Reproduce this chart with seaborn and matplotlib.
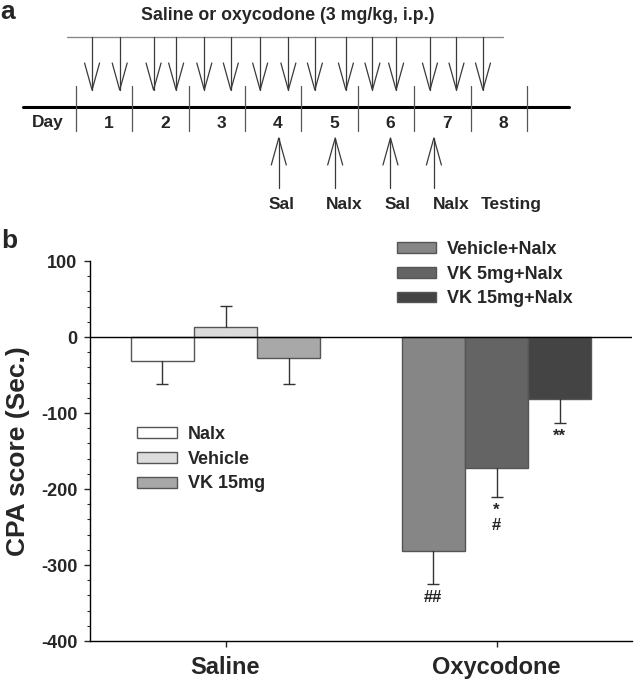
import pandas as pd
import matplotlib
matplotlib.use("Agg")
import matplotlib.pyplot as plt
from matplotlib.patches import Patch
from matplotlib.ticker import MultipleLocator
import seaborn as sns

sns.set_style("ticks")
plt.rcParams['font.family'] = ['Liberation Sans', 'DejaVu Sans']
plt.rcParams['axes.unicode_minus'] = False

# ---- panel a: schedule (times in days from start of day 1) ----
days = [1, 2, 3, 4, 5, 6, 7, 8]
injection_times = [0.29, 0.78, 1.38, 1.78, 2.28, 2.75, 3.27, 3.77, 4.24,
                   4.79, 5.26, 5.68, 6.28, 6.75, 7.22]
treatment_times = [3.60, 4.60, 5.58, 6.35]
treatment_labels = ["Sal", "Nalx", "Sal", "Nalx", "Testing"]
treatment_label_pos = [3.65, 4.76, 5.70, 6.65, 7.73]

# ---- panel b: CPA scores ----
groups = ["Saline", "Oxycodone"]
saline_labels = ["Nalx", "Vehicle", "VK 15mg"]
oxy_labels = ["Vehicle+Nalx", "VK 5mg+Nalx", "VK 15mg+Nalx"]
saline_means = [-32, 13, -28]
saline_sem = [30, 28, 34]
oxy_means = [-282, -172, -81]
oxy_sem = [43, 38, 32]
oxy_marks = ["##", "*\n#", "**"]

saline_colors = ["#ffffff", "#dcdcdc", "#a8a8a8"]
oxy_colors = ["#868686", "#646464", "#444444"]

W, H = 634, 683
fig = plt.figure(figsize=(W / 100, H / 100), dpi=100)

# ================= panel a =================
ax_a = fig.add_axes([0, (H - 230) / H, 1, 230 / H])
px_per_day = 56.41
x0 = 75.7
ax_a.set_xlim(-x0 / px_per_day, (W - x0) / px_per_day)
ax_a.set_ylim(230, 0)
ax_a.axis("off")

half = 7.5 / px_per_day
arrow_col = "#3a3a3a"

ax_a.plot([-0.16, 7.57], [37, 37], color="#8a8a8a", lw=1)
for t in injection_times:
    ax_a.plot([t, t], [37, 90], color=arrow_col, lw=0.9)
    ax_a.plot([t - half, t, t + half], [63, 90, 63], color=arrow_col, lw=0.9)

ax_a.plot([-0.93, 8.75], [107, 107], color="black", lw=2.2)
for b in range(len(days) + 1):
    ax_a.plot([b, b], [86, 131], color="#555555", lw=0.9)
ax_a.text(-0.5, 123, "Day", ha="center", va="center", fontsize=12.5, fontweight="bold")
for d in days:
    ax_a.text(d - 1 + 0.58, 123, str(d), ha="center", va="center",
              fontsize=12.5, fontweight="bold")

for t in treatment_times:
    ax_a.plot([t, t], [188, 138], color=arrow_col, lw=0.9)
    ax_a.plot([t - half, t, t + half], [165, 138, 165], color=arrow_col, lw=0.9)
for lab, p in zip(treatment_labels, treatment_label_pos):
    ax_a.text(p, 205, lab, ha="center", va="center", fontsize=12.5, fontweight="bold")

ax_a.text(3.76, 15, "Saline or oxycodone (3 mg/kg, i.p.)", ha="center", va="center",
          fontsize=12.8, fontweight="bold")

fig.text(8 / W, 1 - 12 / H, "a", ha="center", va="center", fontsize=19, fontweight="bold")
fig.text(9 / W, 1 - 241 / H, "b", ha="center", va="center", fontsize=19, fontweight="bold")

# ================= panel b =================
ax = fig.add_axes([90 / W, (H - 641) / H, (632 - 90) / W, (641 - 261) / H])

rows = []
for g, means in zip(groups, [saline_means, oxy_means]):
    for i, m in enumerate(means):
        rows.append({"group": g, "slot": str(i), "score": m})
df = pd.DataFrame(rows)

sns.barplot(data=df, x="group", y="score", hue="slot", order=groups,
            hue_order=["0", "1", "2"], width=0.7, errorbar=None, legend=False,
            edgecolor="#555555", linewidth=1, ax=ax, zorder=3)

colors = [saline_colors, oxy_colors]
sems = [saline_sem, oxy_sem]
means_all = [saline_means, oxy_means]
centers = [[None] * 3, [None] * 3]
for slot, cont in enumerate(ax.containers):
    for gi, bar in enumerate(cont):
        bar.set_facecolor(colors[gi][slot])
        bar.set_edgecolor("#555555")
        centers[gi][slot] = bar.get_x() + bar.get_width() / 2

# one-sided error bars (away from zero), cap only at the far end
for gi in range(2):
    for slot in range(3):
        m = means_all[gi][slot]
        e = sems[gi][slot]
        end = m - e if m < 0 else m + e
        x = centers[gi][slot]
        ax.plot([x, x], [m, end], color="#333333", lw=1, zorder=4)
        ax.plot([x], [end], marker="_", markersize=8.5, markeredgewidth=1,
                color="#333333", zorder=4)

for slot, mark in enumerate(oxy_marks):
    m = oxy_means[slot]
    e = oxy_sem[slot]
    ax.annotate(mark, xy=(centers[1][slot], m - e), xytext=(0, -4.5),
                textcoords="offset points", ha="center", va="top",
                fontsize=12, fontweight="bold", linespacing=1.0)

ax.axhline(0, color="black", lw=1, zorder=5)

ax.set_ylim(-400, 100)
ax.set_xlim(-0.5, 1.5)
ax.yaxis.set_major_locator(MultipleLocator(100))
ax.yaxis.set_minor_locator(MultipleLocator(20))
ax.tick_params(axis="y", which="major", length=4.5, width=1, pad=4.5, labelsize=13)
ax.tick_params(axis="y", which="minor", length=2.3, width=0.8)
ax.tick_params(axis="x", length=4, width=1, pad=7, labelsize=17)
for lab in ax.get_yticklabels() + ax.get_xticklabels():
    lab.set_fontweight("bold")
ax.set_xlabel("")
ax.set_ylabel("CPA score (Sec.)", fontsize=19, fontweight="bold", labelpad=8)
sns.despine(ax=ax)
for sp in ["left", "bottom"]:
    ax.spines[sp].set_linewidth(1)
    ax.spines[sp].set_color("black")

leg_prop = {"weight": "bold", "size": 13}
h1 = [Patch(facecolor=c, edgecolor="#555555", lw=1, label=l)
      for c, l in zip(saline_colors, saline_labels)]
h2 = [Patch(facecolor=c, edgecolor="#555555", lw=1, label=l)
      for c, l in zip(oxy_colors, oxy_labels)]
leg1 = ax.legend(handles=h1, loc="upper left", bbox_to_anchor=(0.087, 0.565),
                 frameon=False, prop=leg_prop, handlelength=2.2, handleheight=0.55,
                 handletextpad=0.6, labelspacing=0.42, borderpad=0, borderaxespad=0)
ax.add_artist(leg1)
ax.legend(handles=h2, loc="upper left", bbox_to_anchor=(0.566, 1.052),
          frameon=False, prop=leg_prop, handlelength=2.2, handleheight=0.55,
          handletextpad=0.6, labelspacing=0.42, borderpad=0, borderaxespad=0)

fig.savefig("out.png", dpi=100)
